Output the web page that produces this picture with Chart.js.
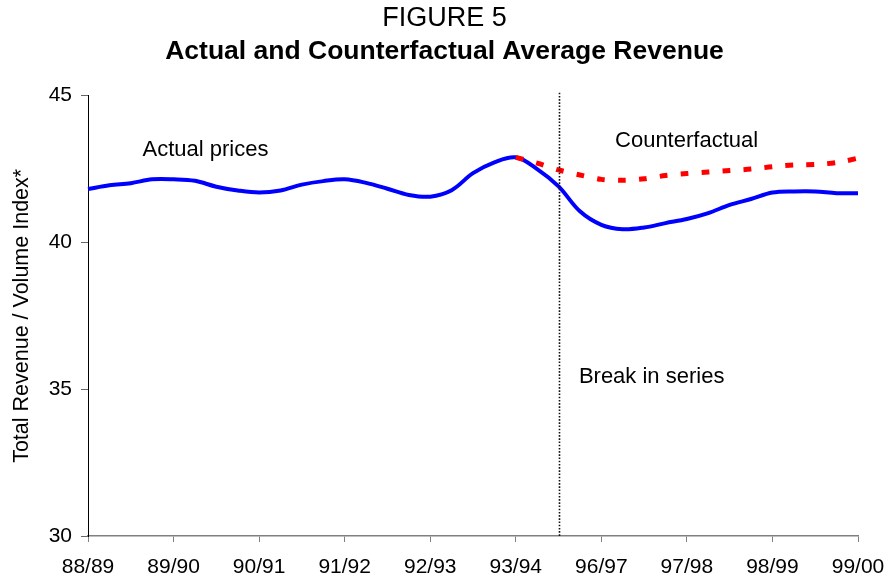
<!DOCTYPE html>
<html>
<head>
<meta charset="utf-8">
<script src="https://cdn.jsdelivr.net/npm/chart.js@4/dist/chart.umd.min.js"></script>
<style>
html,body{margin:0;padding:0;background:#fff;}
#wrap{width:889px;height:579px;position:relative;}
</style>
</head>
<body>
<div id="wrap"><canvas id="c" width="889" height="579"></canvas></div>
<script>
// ---- data ----
const yearLabels = ['88/89','89/90','90/91','91/92','92/93','93/94','96/97','97/98','98/99','99/00'];
const quartersPerYear = 4;
const actualPrices = [41.82, 41.95, 42.02, 42.15, 42.15, 42.10, 41.90, 41.77, 41.70, 41.77,
  41.97, 42.09, 42.15, 42.03, 41.83, 41.62, 41.56, 41.78, 42.36, 42.73,
  42.90, 42.50, 41.91, 41.06, 40.60, 40.45, 40.51, 40.66, 40.80, 41.00,
  41.28, 41.48, 41.70, 41.74, 41.74, 41.68, 41.68];
const counterfactual = [null, null, null, null, null, null, null, null, null, null,
  null, null, null, null, null, null, null, null, null, null,
  42.90, 42.70, 42.47, 42.30, 42.15, 42.12, 42.17, 42.28, 42.35, 42.40,
  42.45, 42.50, 42.58, 42.64, 42.66, 42.72, 42.87];
const breakIndex = 22;
const yTicks = [30, 35, 40, 45];

// quarterly category labels, year label on first quarter only
const labels = actualPrices.map((v, i) => (i % quartersPerYear === 0) ? yearLabels[i / quartersPerYear] : '');

const FONT = "'Liberation Sans', Arial, sans-serif";

const overlay = {
  id: 'overlay',
  afterDatasetsDraw(chart, args, opts) {
    const {ctx, chartArea, scales} = chart;
    const x = scales.x, y = scales.y;
    // break line
    const bx = Math.round(x.getPixelForValue(breakIndex)) + 0.5;
    ctx.save();
    ctx.strokeStyle = '#111';
    ctx.lineWidth = 1.6;
    ctx.setLineDash([1.6, 1.6]);
    ctx.beginPath();
    ctx.moveTo(bx, chartArea.top - 3);
    ctx.lineTo(bx, chartArea.bottom);
    ctx.stroke();
    ctx.restore();
    // annotations
    ctx.save();
    ctx.fillStyle = '#000';
    ctx.font = '22px ' + FONT;
    ctx.textAlign = 'left';
    ctx.textBaseline = 'alphabetic';
    for (const n of opts.notes) {
      ctx.fillText(n.text, x.getPixelForValue(n.x), y.getPixelForValue(n.y));
    }
    ctx.restore();
  }
};

new Chart(document.getElementById('c'), {
  type: 'line',
  data: {
    labels: labels,
    datasets: [
      {
        label: 'Counterfactual',
        data: counterfactual,
        borderColor: '#ff0000',
        borderWidth: 5,
        borderDash: [8, 13],
        pointRadius: 0,
        tension: 0.3,
        fill: false,
        order: 0
      },
      {
        label: 'Actual prices',
        data: actualPrices,
        borderColor: '#0000ff',
        borderWidth: 4,
        pointRadius: 0,
        tension: 0.35,
        fill: false,
        order: 1
      }
    ]
  },
  options: {
    responsive: false,
    animation: false,
    layout: { padding: { left: 0, right: 0, top: 0, bottom: 0 } },
    plugins: {
      legend: { display: false },
      tooltip: { enabled: false },
      title: {
        display: true,
        text: 'FIGURE 5',
        color: '#000',
        font: { family: FONT, size: 27, weight: 'normal' },
        padding: { top: 2, bottom: 0 }
      },
      subtitle: {
        display: true,
        text: 'Actual and Counterfactual Average Revenue',
        color: '#000',
        font: { family: FONT, size: 26.5, weight: 'bold' },
        padding: { top: 1.6, bottom: 27.9 }
      },
      overlay: {
        notes: [
          { text: 'Actual prices', x: 2.55, y: 42.95 },
          { text: 'Counterfactual', x: 24.64, y: 43.24 },
          { text: 'Break in series', x: 22.95, y: 35.21 }
        ]
      }
    },
    scales: {
      x: {
        type: 'category',
        offset: false,
        border: { display: true, color: '#808080', width: 1.5 },
        grid: {
          drawOnChartArea: false,
          drawTicks: true,
          tickLength: 6,
          tickColor: (c) => (c.index % quartersPerYear === 0) ? '#808080' : 'rgba(0,0,0,0)',
          color: 'rgba(0,0,0,0)'
        },
        ticks: {
          autoSkip: false,
          maxRotation: 0,
          minRotation: 0,
          padding: 13,
          color: '#000',
          font: { family: FONT, size: 21 },
          callback: (v, i) => labels[i]
        },
        afterFit: (s) => { s.height = 43; s.paddingLeft = 0; s.paddingRight = 31; }
      },
      y: {
        min: 30,
        max: 45,
        border: { display: true, color: '#000', width: 1 },
        grid: {
          drawOnChartArea: false,
          drawTicks: true,
          tickLength: 7,
          tickColor: '#666'
        },
        afterBuildTicks: (s) => { s.ticks = yTicks.map(v => ({ value: v })); },
        ticks: {
          padding: 9,
          color: '#000',
          font: { family: FONT, size: 21 }
        },
        title: {
          display: true,
          text: 'Total Revenue / Volume Index*',
          color: '#000',
          font: { family: FONT, size: 21.5 },
          padding: { top: 9, bottom: 0 }
        },
        afterFit: (s) => { s.width = 88; }
      }
    }
  },
  plugins: [overlay]
});
</script>
</body>
</html>
